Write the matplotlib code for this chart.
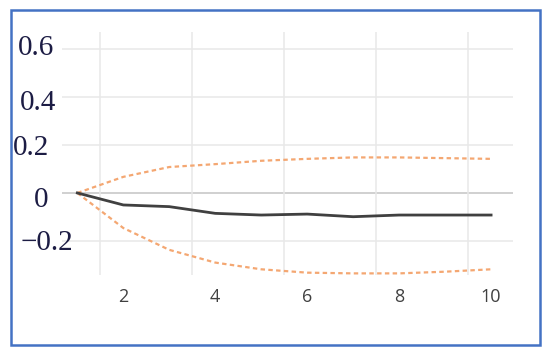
import matplotlib.pyplot as plt
import matplotlib.transforms as mtransforms
from matplotlib.patches import Rectangle

# periodi e valori
periods = [1, 2, 3, 4, 5, 6, 7, 8, 9, 10]
response = [0, -0.05, -0.057, -0.085, -0.092, -0.088, -0.099, -0.092, -0.092, -0.092]
upper = [0, 0.067, 0.108, 0.12, 0.134, 0.142, 0.148, 0.148, 0.145, 0.142]
lower = [0, -0.146, -0.237, -0.29, -0.318, -0.332, -0.335, -0.335, -0.328, -0.318]

x_ticks = [2, 4, 6, 8, 10]
x_grid = [1.5, 3.5, 5.5, 7.5, 9.5]
y_ticks = [-0.2, 0, 0.2, 0.4, 0.6]
y_labels = ["\u22120.2", "0", "0.2", "0.4", "0.6"]
# spostamenti (pixel) delle etichette y, che nell'originale non sono allineate
y_label_shift = [(17, 1), (-8, -4), (-7, 0), (0, -3), (-2, 4)]


def main():
    fig = plt.figure(figsize=(5.5, 3.54), dpi=100)
    ax = fig.add_axes([0.113, 0.223, 0.82, 0.687])

    # griglia chiara, linea dello zero un po' piu' scura
    for v in y_ticks:
        ax.axhline(v, color="#c4c4c4" if v == 0 else "#e8e8e8", lw=1.1, zorder=0)
    for v in x_grid:
        ax.axvline(v, color="#e8e8e8", lw=1.1, zorder=0)

    dash = (0, (2.0, 1.5))
    ax.plot(periods, upper, color="#F4A772", lw=1.6, linestyle=dash)
    ax.plot(periods, lower, color="#F4A772", lw=1.6, linestyle=dash)
    ax.plot(periods, response, color="#404040", lw=2)

    ax.set_xlim(0.67, 10.48)
    ax.set_ylim(-0.342, 0.671)

    ax.set_xticks(x_ticks)
    ax.set_xticklabels([str(t) for t in x_ticks], fontsize=13,
                       color="#404040", family="Open Sans")
    ax.set_yticks(y_ticks)
    ax.set_yticklabels(y_labels, fontsize=21, color="#1c1c44",
                       family="Liberation Serif")
    ax.tick_params(axis="x", length=0, pad=9)
    ax.tick_params(axis="y", length=0, pad=4)
    for s in ax.spines.values():
        s.set_visible(False)

    for lab, (dx, dy) in zip(ax.get_yticklabels(), y_label_shift):
        off = mtransforms.ScaledTranslation(dx / 100, dy / 100, fig.dpi_scale_trans)
        lab.set_transform(lab.get_transform() + off)

    # cornice blu attorno al grafico
    fig.patches.append(Rectangle((11 / 550, 1 - 345 / 354), 529 / 550, 335 / 354,
                                 transform=fig.transFigure, fill=False,
                                 edgecolor="#4472C4", lw=1.8))

    fig.savefig("out.png", dpi=100)


main()
